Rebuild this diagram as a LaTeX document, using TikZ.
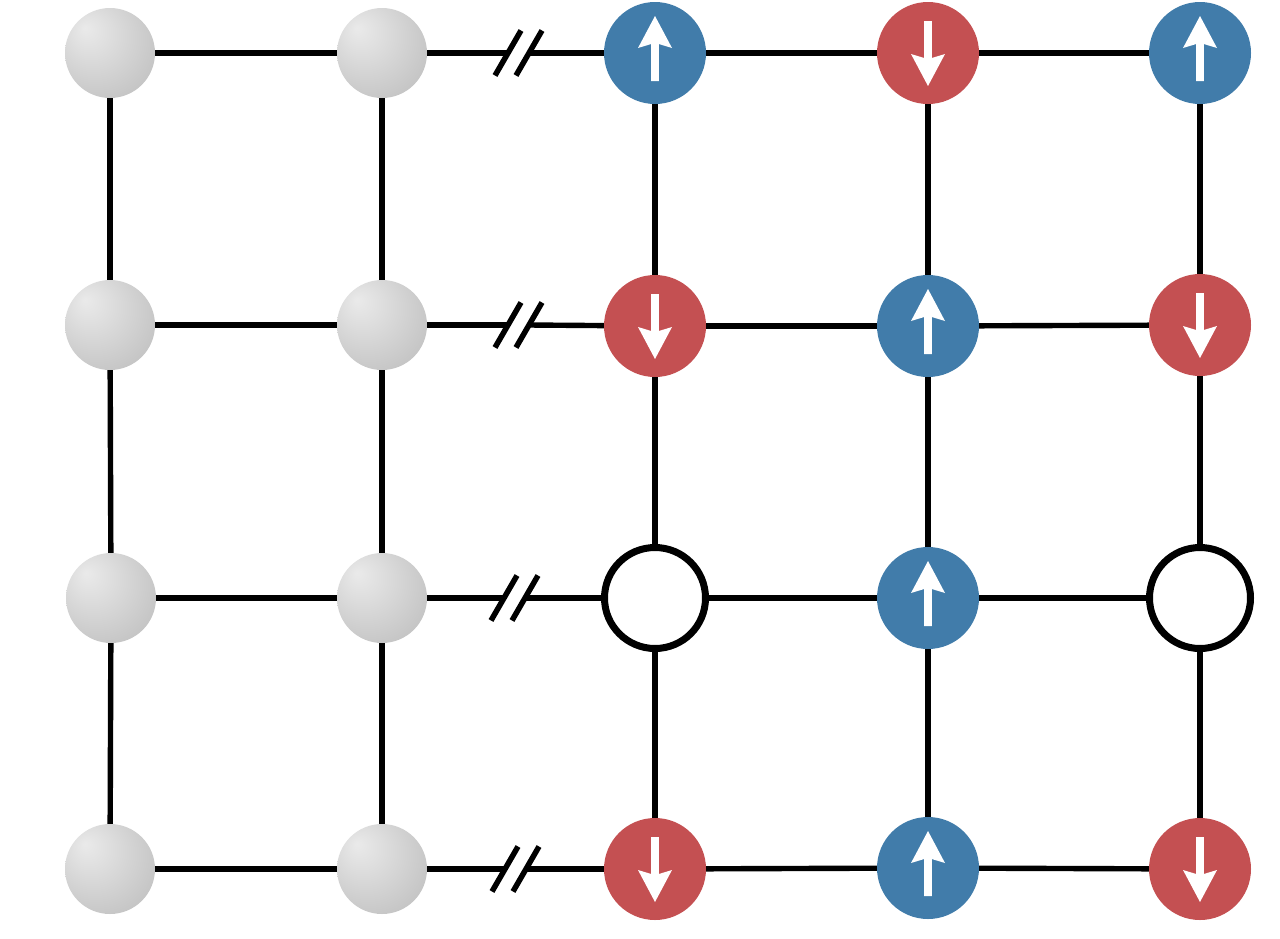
\documentclass[tikz,border=0pt]{standalone}
\usetikzlibrary{calc,backgrounds}
\definecolor{spinblue}{HTML}{417CAA}
\definecolor{spinred}{HTML}{C45052}
\definecolor{hl}{RGB}{234,234,234}
\definecolor{edgegray}{RGB}{192,192,192}
\pgfdeclareradialshading{graysph}{\pgfpoint{-14bp}{14bp}}{color(0bp)=(hl);color(10bp)=(hl!75!edgegray);color(38bp)=(edgegray);color(60bp)=(edgegray)}
\tikzset{
  bond/.style={line width=5.4pt, black},
  gball/.style={circle, inner sep=0pt, minimum size=90pt, shade, shading=graysph},
  upsite/.style={circle, inner sep=0pt, minimum size=102pt, fill=spinblue},
  downsite/.style={circle, inner sep=0pt, minimum size=102pt, fill=spinred},
  hole/.style={circle, inner sep=0pt, minimum size=101pt, fill=white, draw=black, line width=7pt},
  slash/.style={line width=5.5pt, black},
  uparr/.pic={\fill[white] (0,-37) -- (17,-5) -- (3.8,-9) -- (3.8,28) -- (-3.8,28) -- (-3.8,-9) -- (-17,-5) -- cycle;},
  downarr/.pic={\fill[white] (0,33) -- (17,1) -- (3.8,5) -- (3.8,-32) -- (-3.8,-32) -- (-3.8,5) -- (-17,1) -- cycle;}
}
\begin{document}
\begin{tikzpicture}[x=1pt,y=-1pt]
\useasboundingbox (0,0) rectangle (1280,938);
% nodes
\node[gball] (r1c1) at (110,53) {};
\node[gball] (r1c2) at (382,53) {};
\node[upsite] (r1c3) at (655,53) {};
\node[downsite] (r1c4) at (928,53) {};
\node[upsite] (r1c5) at (1200,53) {};
\node[gball] (r2c1) at (110,325) {};
\node[gball] (r2c2) at (382,325) {};
\node[downsite] (r2c3) at (655,326) {};
\node[upsite] (r2c4) at (928,326) {};
\node[downsite] (r2c5) at (1200,325) {};
\node[gball] (r3c1) at (111,598) {};
\node[gball] (r3c2) at (382,598) {};
\node[hole] (r3c3) at (655,598) {};
\node[upsite] (r3c4) at (928,598) {};
\node[hole] (r3c5) at (1200,598) {};
\node[gball] (r4c1) at (110,869) {};
\node[gball] (r4c2) at (382,869) {};
\node[downsite] (r4c3) at (655,869) {};
\node[upsite] (r4c4) at (928,868) {};
\node[downsite] (r4c5) at (1200,869) {};
% break coordinates
\coordinate (b1a) at (508,53);  \coordinate (b1b) at (529,53);
\coordinate (b2a) at (508,325); \coordinate (b2b) at (529,325);
\coordinate (b3a) at (504,598); \coordinate (b3b) at (525,598);
\coordinate (b4a) at (505,869); \coordinate (b4b) at (526,869);
\begin{scope}[on background layer]
% horizontal bonds
\foreach \r in {1,2,3,4}{
  \draw[bond] (r\r c1) -- (r\r c2);
  \draw[bond] (r\r c2) -- (b\r a);
  \draw[bond] (b\r b) -- (r\r c3);
  \draw[bond] (r\r c3) -- (r\r c4);
  \draw[bond] (r\r c4) -- (r\r c5);
}
% vertical bonds
\foreach \c in {1,...,5}{
  \draw[bond] (r1c\c) -- (r2c\c);
  \draw[bond] (r2c\c) -- (r3c\c);
  \draw[bond] (r3c\c) -- (r4c\c);
}
\end{scope}
% spin arrows
\foreach \n in {r1c3,r1c5,r2c4,r3c4,r4c4}{\pic at (\n) {uparr};}
\foreach \n in {r1c4,r2c3,r2c5,r4c3,r4c5}{\pic at (\n) {downarr};}
% break slashes
\foreach \b in {b1a,b1b,b2a,b2b,b3a,b3b,b4a,b4b}{
  \draw[slash] ($(\b)+(-13,22.5)$) -- ($(\b)+(13,-22.5)$);
}
\end{tikzpicture}
\end{document}
